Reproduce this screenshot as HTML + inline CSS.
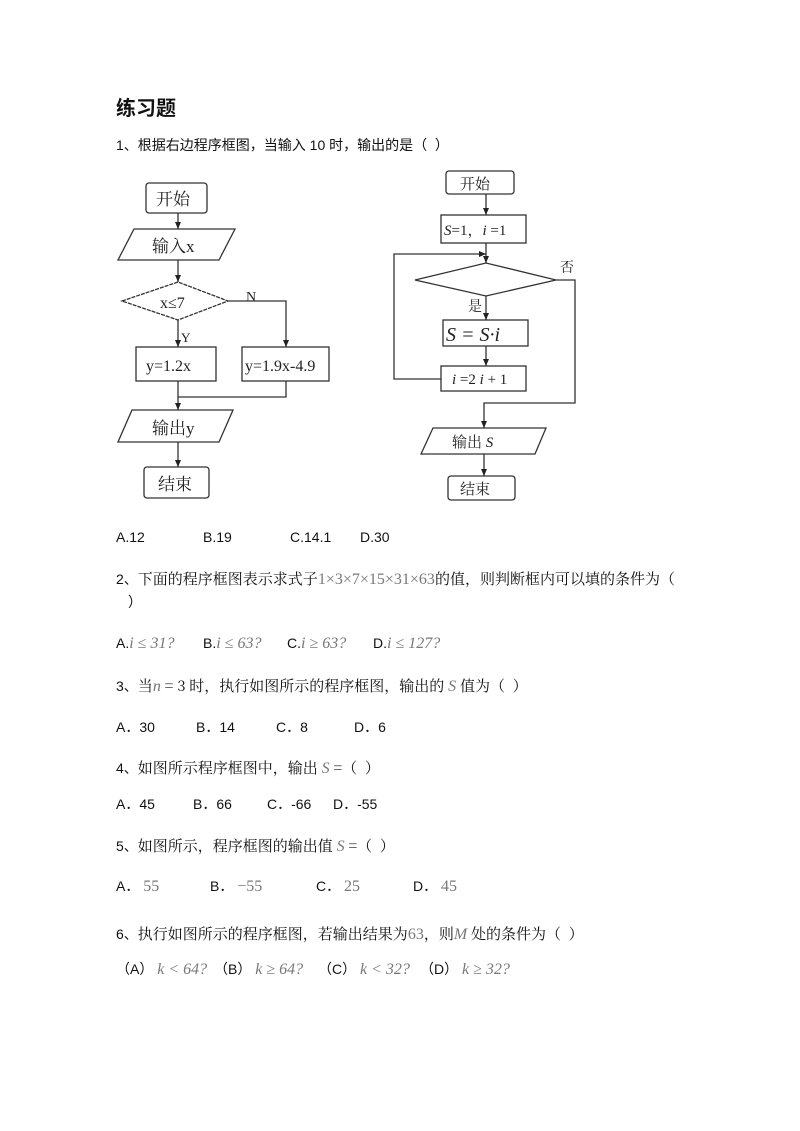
<!DOCTYPE html>
<html><head><meta charset="utf-8"><style>
body{margin:0;width:800px;height:1131px;background:#fff;position:relative;overflow:hidden;font-family:"Liberation Sans","Noto Sans CJK SC",sans-serif;color:#111;}
.t{position:absolute;font-size:14px;line-height:18px;white-space:nowrap;}
.m{font-family:"Liberation Serif","Noto Serif CJK SC",serif;color:#777;font-style:italic;font-size:16px;}
.s{font-family:"Noto Serif CJK SC","Liberation Serif",serif;font-size:15px;}
svg{position:absolute;left:0;top:0;}
svg text{font-family:"Liberation Serif","Noto Serif CJK SC",serif;}
</style></head><body>
<div class="t" style="left:116px;top:97px;font-size:20px;line-height:24px;font-weight:bold;">练习题</div>
<div class="t" style="left:116px;top:136px;">1、根据右边程序框图，当输入 10 时，输出的是（ &nbsp;）</div>

<svg width="800" height="1131" viewBox="0 0 800 1131">
<defs><marker id="a" markerWidth="8" markerHeight="8" refX="7" refY="4" orient="auto" markerUnits="userSpaceOnUse"><path d="M0,1 L7,4 L0,7 z" fill="#222"/></marker></defs>
<g stroke="#333" stroke-width="1.3" fill="none">
<rect x="146" y="183" width="61" height="30" rx="3"/>
<polygon points="134,229 235,229 219,260 118,260"/>
<polygon points="122,301 178,282 228,301 178,320" stroke-dasharray="4,1"/>
<rect x="136" y="347" width="80" height="34"/>
<rect x="242" y="347" width="87" height="34"/>
<polygon points="132,410 233,410 219,442 118,442"/>
<rect x="144" y="467" width="65" height="31" rx="3"/>
<line x1="178" y1="213" x2="178" y2="229" marker-end="url(#a)"/>
<line x1="178" y1="260" x2="178" y2="282" marker-end="url(#a)"/>
<line x1="178" y1="320" x2="178" y2="347" marker-end="url(#a)"/>
<polyline points="228,301 286,301 286,347" marker-end="url(#a)"/>
<line x1="178" y1="381" x2="178" y2="410" marker-end="url(#a)"/>
<polyline points="286,381 286,397 178,397"/>
<line x1="178" y1="442" x2="178" y2="467" marker-end="url(#a)"/>
<rect x="446" y="171" width="68" height="23" rx="3"/>
<rect x="441" y="215" width="85" height="28"/>
<polygon points="415,280 486,263 556,280 486,296"/>
<rect x="443" y="320" width="85" height="26"/>
<rect x="441" y="366" width="85" height="25"/>
<polygon points="433,428 546,428 535,454 421,454"/>
<rect x="448" y="476" width="67" height="24" rx="3"/>
<line x1="486" y1="194" x2="486" y2="215" marker-end="url(#a)"/>
<line x1="486" y1="243" x2="486" y2="263" marker-end="url(#a)"/>
<polyline points="441,379 394,379 394,254 486,254" marker-end="url(#a)"/>
<line x1="486" y1="296" x2="486" y2="320" marker-end="url(#a)"/>
<line x1="486" y1="346" x2="486" y2="366" marker-end="url(#a)"/>
<polyline points="556,280 575,280 575,403 484,403 484,428" marker-end="url(#a)"/>
<line x1="484" y1="454" x2="484" y2="476" marker-end="url(#a)"/>
</g>
<g fill="#222" font-size="17">
<text x="156" y="205">开始</text>
<text x="152" y="252">输入x</text>
<text x="160" y="308" font-size="16">x≤7</text>
<text x="246" y="301" font-size="14">N</text>
<text x="181" y="342" font-size="13">Y</text>
<text x="146" y="371" font-size="16">y=1.2x</text>
<text x="245" y="371" font-size="16">y=1.9x-4.9</text>
<text x="152" y="434">输出y</text>
<text x="158" y="490">结束</text>
<text x="460" y="189" font-size="15">开始</text>
<text x="444" y="235" font-size="15"><tspan font-style="italic">S</tspan>=1，<tspan font-style="italic">i</tspan> =1</text>
<text x="560" y="272" font-size="14">否</text>
<text x="468" y="311" font-size="14">是</text>
<text x="446" y="341" font-size="20" font-style="italic">S = S·i</text>
<text x="452" y="384" font-size="15"><tspan font-style="italic">i</tspan> =2 <tspan font-style="italic">i</tspan> + 1</text>
<text x="452" y="447" font-size="15">输出 <tspan font-style="italic">S</tspan></text>
<text x="460" y="494" font-size="15">结束</text>
</g>
</svg>

<div class="t" style="left:116px;top:528px;">A.12</div>
<div class="t" style="left:203px;top:528px;">B.19</div>
<div class="t" style="left:290px;top:528px;">C.14.1</div>
<div class="t" style="left:360px;top:528px;">D.30</div>

<div class="t" style="left:116px;top:570px;">2、<span class="s">下面的程序框图表示求式子</span><span class="m" style="font-style:normal">1×3×7×15×31×63</span><span class="s">的值，则判断框内可以填的条件为（</span></div>
<div class="t" style="left:128px;top:593px;">）</div>
<div class="t" style="left:116px;top:634px;">A.<span class="m">i ≤ 31?</span></div>
<div class="t" style="left:203px;top:634px;">B.<span class="m">i ≤ 63?</span></div>
<div class="t" style="left:287px;top:634px;">C.<span class="m">i ≥ 63?</span></div>
<div class="t" style="left:373px;top:634px;">D.<span class="m">i ≤ 127?</span></div>

<div class="t" style="left:116px;top:677px;">3、<span class="s">当<span class="m">n</span> = 3 时，执行如图所示的程序框图，输出的 <span class="m">S</span> 值为（ &nbsp;）</span></div>
<div class="t" style="left:116px;top:718px;">A．30</div>
<div class="t" style="left:196px;top:718px;">B．14</div>
<div class="t" style="left:276px;top:718px;">C．8</div>
<div class="t" style="left:354px;top:718px;">D．6</div>

<div class="t" style="left:116px;top:759px;">4、<span class="s">如图所示程序框图中，输出 <span class="m">S</span> =（ &nbsp;）</span></div>
<div class="t" style="left:116px;top:795px;">A．45</div>
<div class="t" style="left:193px;top:795px;">B．66</div>
<div class="t" style="left:267px;top:795px;">C．-66</div>
<div class="t" style="left:333px;top:795px;">D．-55</div>

<div class="t" style="left:116px;top:837px;">5、<span class="s">如图所示，程序框图的输出值 <span class="m">S</span> =（ &nbsp;）</span></div>
<div class="t" style="left:116px;top:877px;">A． <span class="m" style="font-style:normal">55</span></div>
<div class="t" style="left:210px;top:877px;">B． <span class="m" style="font-style:normal">−55</span></div>
<div class="t" style="left:316px;top:877px;">C． <span class="m" style="font-style:normal">25</span></div>
<div class="t" style="left:413px;top:877px;">D． <span class="m" style="font-style:normal">45</span></div>

<div class="t" style="left:116px;top:925px;">6、<span class="s">执行如图所示的程序框图，若输出结果为<span class="m" style="font-style:normal">63</span>，则<span class="m">M</span> 处的条件为（ &nbsp;）</span></div>
<div class="t" style="left:116px;top:960px;">（A） <span class="m">k &lt; 64?</span></div>
<div class="t" style="left:214px;top:960px;">（B） <span class="m">k ≥ 64?</span></div>
<div class="t" style="left:318px;top:960px;">（C） <span class="m">k &lt; 32?</span></div>
<div class="t" style="left:420px;top:960px;">（D） <span class="m">k ≥ 32?</span></div>
</body></html>
